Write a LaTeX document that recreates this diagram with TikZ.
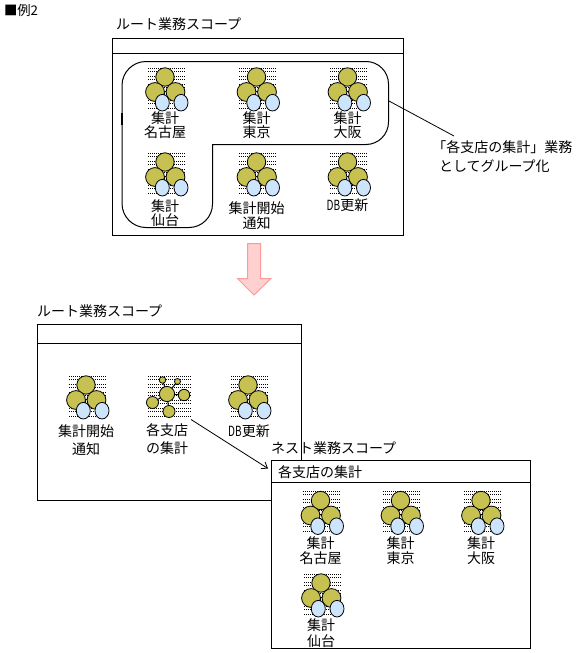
\documentclass[tikz,border=0pt]{standalone}
\usepackage{fontspec}
\setmainfont{Noto Sans CJK JP}
\usetikzlibrary{arrows.meta,calc}
\definecolor{olive}{RGB}{198,193,80}
\definecolor{paleblue}{RGB}{204,228,252}
\definecolor{pinkfill}{RGB}{255,208,208}
\definecolor{pinkline}{RGB}{255,153,153}
\tikzset{
  ln/.style={line width=0.75pt,black},
  framebox/.style={draw,line width=0.75pt,anchor=north west,inner sep=0pt,outer sep=0pt},
  lbl/.style={inner sep=0pt,outer sep=0pt,align=center,font=\fontsize{10.5}{#1}\selectfont},
  lbl/.default=11,
  title/.style={inner sep=0pt,outer sep=0pt,anchor=west,font=\fontsize{10.5}{12}\selectfont},
  olv/.style={draw=black,line width=0.6pt,fill=olive},
  blu/.style={draw=black,line width=0.6pt,fill=paleblue},
}
\newcommand{\dotgrid}[3]{% x0 y0 cols
  \foreach \iy in {0,3,8,11,16,19,24,27,32,35,40}{\foreach \ix in {1,...,#3}{%
    \fill[black] ({#1+2*\ix},{#2+\iy}) rectangle ++(1,1);}}}
\newcommand{\dbtext}{\scalebox{0.72}[1]{DB}更新}
\newcommand{\proc}[2]{%
  \begin{scope}[shift={(#1,#2)}]
    \pgfmathsetmacro{\gx}{-19-(#1-floor(#1))}
    \pgfmathsetmacro{\gy}{-9-(#2-floor(#2))}
    \dotgrid{\gx}{\gy}{19}
    \draw[ln] (-10,15)--(0,0)--(10.5,15)--(-10,15);
    \fill[white] (-1,14) rectangle (2,21);
    \draw[ln] (-1,14) rectangle (2,20);
    \draw[olv] (0,0) circle[radius=9.2];
    \draw[olv] (-10,15) circle[radius=9.4];
    \draw[olv] (10.5,15) circle[radius=9.4];
    \draw[blu] (-2.7,25.7) ellipse[x radius=7,y radius=8.3];
    \draw[blu] (16,25.7) ellipse[x radius=7,y radius=8.3];
  \end{scope}}
\begin{document}
\begin{tikzpicture}[x=0.75pt,y=-0.75pt]
\useasboundingbox (0,0) rectangle (585,653);
\node[title,font=\fontsize{10}{12}\selectfont] (hdr) at (4,10) {■例2};
% upper scope
\node[title] (t1) at (116,24.5) {ルート業務スコープ};
\node[framebox,minimum width=291*0.75pt,minimum height=196.5*0.75pt] (f1) at (112.5,38.5) {};
\coordinate (f1a) at (112.5,53.5); \coordinate (f1b) at (404,53.5);
\draw[ln] (f1a)--(f1b);
\draw[ln] (146,61.5) -- (366,61.5) arc[start angle=-90,end angle=0,x radius=22.5,y radius=22.5]
  -- (388.5,122) arc[start angle=0,end angle=90,x radius=22.5,y radius=22.5]
  -- (212.5,144.5) -- (212.5,204) arc[start angle=0,end angle=90,x radius=23.5,y radius=23.5]
  -- (146,227.5) arc[start angle=90,end angle=180,x radius=24,y radius=24]
  -- (122,85.5) arc[start angle=180,end angle=270,x radius=24,y radius=24] -- cycle;
\draw[line width=1.2pt] (122,113)--(122,125);
\proc{165}{77}\proc{256.5}{77}\proc{347.5}{77}
\proc{165}{162}\proc{256.5}{162}\proc{347.5}{162}
\node[lbl=10.5] (a1) at (165,125) {集計\\名古屋};
\node[lbl=10.5] (a2) at (256.5,125) {集計\\東京};
\node[lbl=10.5] (a3) at (347.5,125) {集計\\大阪};
\node[lbl=10.5] (a4) at (165,213.5) {集計\\仙台};
\node[lbl=11] (a5) at (256.5,215.5) {集計開始\\通知};
\node[lbl] (a6) at (347.5,205.5) {\dbtext};
\coordinate (regionR) at (389,101);
\node[lbl=14.5,align=left,anchor=north west] (note) at (439,140.5) {\kern-4.9pt「各支店の集計」業務\\としてグループ化};
\coordinate (noteTip) at (454,136);
\draw[line width=0.6pt] (regionR)--(noteTip);
% pink arrow
\draw[line width=0.75pt,draw=pinkline,fill=pinkfill] (247.5,243.5)--(260.5,243.5)--(260.5,278.5)--(271,278.5)--(254,295)--(237.5,278.5)--(247.5,278.5)--cycle;
% root scope
\node[title] (t2) at (37,311) {ルート業務スコープ};
\node[framebox,minimum width=263.5*0.75pt,minimum height=176.5*0.75pt] (f2) at (37.5,324) {};
\coordinate (f2a) at (37.5,343.5); \coordinate (f2b) at (301,343.5);
\draw[ln] (f2a)--(f2b);
\proc{86}{385}\proc{248}{385}
% group icon
\dotgrid{146}{376}{22}
\coordinate (c1) at (162.5,380); \coordinate (c2) at (177.5,381.5); \coordinate (c3) at (167,394);
\coordinate (c4) at (184,395); \coordinate (c5) at (152.5,402.5); \coordinate (c6) at (169,411.5);
\draw[ln] (c1)--(c3)--(c2) (c3)--(c4) (c3)--(c5) (c3)--(c6);
\draw[olv] (c1) circle[radius=3.3];
\draw[olv] (c2) circle[radius=3];
\draw[olv] (c3) circle[radius=7.6];
\draw[olv] (c4) circle[radius=5.7];
\draw[olv] (c5) circle[radius=6];
\draw[olv] (c6) circle[radius=6];
\node[lbl=13.5] (b1) at (86,440) {集計開始\\通知};
\node[lbl=13.5] (b2) at (167,439.5) {各支店\\の集計};
\node[lbl] (b3) at (249,431) {\dbtext};
% nested scope
\node[title] (t3) at (271,448.5) {ネスト業務スコープ};
\node[framebox,fill=white,minimum width=258.5*0.75pt,minimum height=187.5*0.75pt] (f3) at (271.5,460.5) {};
\coordinate (f3a) at (271.5,482.5); \coordinate (f3b) at (530,482.5);
\draw[ln] (f3a)--(f3b);
\node[title] (t4) at (278,472) {各支店の集計};
\proc{320.5}{500.5}\proc{400.5}{500.5}\proc{481}{500.5}\proc{321}{583}
\node[lbl=11.5] (d1) at (320.5,550.5) {集計\\名古屋};
\node[lbl=11.5] (d2) at (400.5,550.5) {集計\\東京};
\node[lbl=11.5] (d3) at (481,550.5) {集計\\大阪};
\node[lbl=12] (d4) at (321,633) {集計\\仙台};
\coordinate (grpOut) at (191,419.5); \coordinate (grpIn) at (268,468.5);
\draw[line width=0.6pt,-{Straight Barb[length=4pt,width=6pt]}] (grpOut)--(grpIn);
\end{tikzpicture}
\end{document}
